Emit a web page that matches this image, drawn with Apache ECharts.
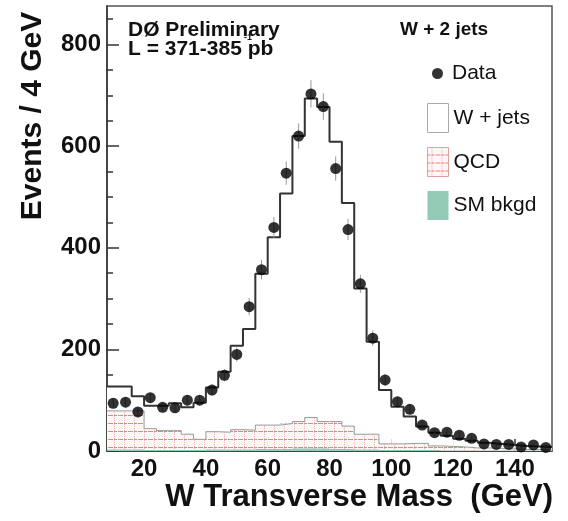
<!DOCTYPE html>
<html>
<head>
<meta charset="utf-8">
<script src="https://cdn.jsdelivr.net/npm/echarts@6/dist/echarts.min.js"></script>
<style>
	html, body { margin: 0; padding: 0; background: #fff; }
	#chart { width: 568px; height: 521px; }
</style>
</head>
<body>
<div id="chart"></div>
<script>
// bins of 4 GeV, centres
var binCenters = [10, 14, 18, 22, 26, 30, 34, 38, 42, 46, 50, 54, 58, 62, 66, 70, 74, 78,
	82, 86, 90, 94, 98, 102, 106, 110, 114, 118, 122, 126, 130, 134, 138, 142, 146, 150];
var binWidth = 4;

var dataCounts = [94, 96, 77, 105, 86, 85, 100, 100, 120, 149, 190, 284, 357, 440, 547, 620, 703, 678,
	556, 436, 329, 222, 140, 97, 82, 51, 36, 37, 31, 25, 14, 13, 13, 8, 12, 7];
var dataErrors = [10, 10, 9, 10, 9, 9, 10, 10, 11, 12, 14, 17, 19, 21, 23, 25, 27, 26,
	24, 21, 18, 15, 12, 10, 9, 7, 6, 6, 6, 5, 4, 4, 4, 3, 3, 3];
// total prediction (W + jets stacked on backgrounds)
var wjetsTotal = [127, 127, 108, 89, 89, 94, 86, 95, 125, 156, 207, 240, 349, 421, 507, 620, 694, 677,
	609, 488, 320, 215, 120, 87, 68, 48, 36, 30, 24, 20, 16, 14, 12, 10, 9, 8];
var qcd = [79, 79, 79, 44, 40, 40, 33, 23, 38, 37, 42, 41, 51, 51, 54, 58, 66, 58,
	58, 49, 33, 33, 14, 14, 15, 15, 10, 9, 8, 6, 6, 5, 4, 3, 3, 2];
var smBkgd = [3, 3, 3, 2, 2, 2, 2, 2, 3, 3, 3, 3, 4, 4, 4, 5, 5, 5,
	4, 4, 3, 3, 2, 2, 2, 2, 2, 1, 1, 1, 1, 1, 1, 1, 1, 1];

var xMajorTicks = [20, 40, 60, 80, 100, 120, 140];
var xMinorTicks = [10, 15, 25, 30, 35, 45, 50, 55, 65, 70, 75, 85, 90, 95, 105, 110, 115, 125, 130, 135, 145, 150];
var yMajorTicks = [0, 200, 400, 600, 800];
var yMinorTicks = [50, 100, 150, 250, 300, 350, 450, 500, 550, 650, 700, 750, 850];

var FONT = '"Liberation Sans", Arial, Helvetica, sans-serif';

// pink dotted hatch used for QCD
function makeHatch() {
	var c = document.createElement('canvas');
	c.width = 10;
	c.height = 8;
	var ctx = c.getContext('2d');
	ctx.fillStyle = '#fdf6f6';
	ctx.fillRect(0, 0, 10, 8);
	ctx.fillStyle = 'rgba(228,110,110,0.85)';
	for (var x = 0; x < 10; x++) {
		if (x % 4 !== 3) ctx.fillRect(x, 7, 1, 1);
	}
	ctx.fillStyle = 'rgba(228,140,140,0.65)';
	for (var y = 0; y < 7; y += 2) ctx.fillRect(4, y, 1, 1);
	return { image: c, repeat: 'repeat' };
}
var hatch = makeHatch();

function pairs(values) {
	return binCenters.map(function(c, i) {
		return [c, values[i]];
	});
}

function stepEdges(values) {
	var arr = binCenters.map(function(c, i) {
		return [c - binWidth / 2, values[i]];
	});
	arr.push([binCenters[binCenters.length - 1] + binWidth / 2, values[values.length - 1]]);
	return arr;
}

function histRender(fill) {
	return function(params, api) {
		var x = api.value(0),
			v = api.value(1);
		var p0 = api.coord([x - binWidth / 2, v]);
		var p1 = api.coord([x + binWidth / 2, 0]);
		return {
			type: 'rect',
			shape: { x: p0[0], y: p0[1], width: p1[0] - p0[0], height: p1[1] - p0[1] },
			style: { fill: fill }
		};
	};
}

var errData = binCenters.map(function(c, i) {
	return [c, dataCounts[i] - dataErrors[i], dataCounts[i] + dataErrors[i]];
});

var chart = echarts.init(document.getElementById('chart'));

var tickLine = { color: '#333', width: 1.5 };
var labelStyle = { fontFamily: FONT, fontSize: 24, fontWeight: 'bold', color: '#111' };

var option = {
	animation: false,
	grid: {
		left: 107, right: 16, top: 6, bottom: 70,
		show: true, borderColor: '#555', borderWidth: 1.5, backgroundColor: '#fff'
	},
	xAxis: [{
		type: 'value', min: 8, max: 152, position: 'bottom',
		axisLine: { show: true, onZero: false, lineStyle: tickLine },
		axisTick: { inside: true, length: 12, customValues: xMajorTicks, lineStyle: tickLine },
		axisLabel: Object.assign({ customValues: xMajorTicks, margin: 6 }, labelStyle),
		splitLine: { show: false }
	}, {
		type: 'value', min: 8, max: 152, position: 'bottom',
		axisLine: { show: false },
		axisTick: { inside: true, length: 6, customValues: xMinorTicks, lineStyle: tickLine },
		axisLabel: { show: false },
		splitLine: { show: false }
	}],
	yAxis: [{
		type: 'value', min: 0, max: 876, position: 'left',
		axisLine: { show: true, onZero: false, lineStyle: tickLine },
		axisTick: { inside: true, length: 12, customValues: yMajorTicks, lineStyle: tickLine },
		axisLabel: Object.assign({ customValues: yMajorTicks, margin: 6 }, labelStyle),
		splitLine: { show: false }
	}, {
		type: 'value', min: 0, max: 876, position: 'left',
		axisLine: { show: false },
		axisTick: { inside: true, length: 6, customValues: yMinorTicks, lineStyle: tickLine },
		axisLabel: { show: false },
		splitLine: { show: false }
	}],
	legend: [{
		data: ['Data'],
		left: 432, top: 63, padding: 0,
		icon: 'circle', itemWidth: 11, itemHeight: 11,
		selectedMode: false,
		textStyle: { fontFamily: FONT, fontSize: 21, color: '#111', padding: [0, 0, 0, 4] }
	}, {
		data: [{
			name: 'W + jets',
			itemStyle: { color: '#fff', borderColor: '#aaa', borderWidth: 1 }
		}, {
			name: 'QCD',
			itemStyle: { color: hatch, borderColor: '#e0a0a0', borderWidth: 1 }
		}, {
			name: 'SM bkgd',
			itemStyle: { color: '#93cbb6' }
		}],
		orient: 'vertical',
		left: 427, top: 103, padding: 0,
		icon: 'rect', itemWidth: 21, itemHeight: 29, itemGap: 14,
		selectedMode: false,
		textStyle: { fontFamily: FONT, fontSize: 21, color: '#111' }
	}],
	graphic: [{
		type: 'text', left: 128, top: 20,
		style: { text: 'DØ Preliminary', font: 'bold 21px ' + FONT, fill: '#111' }
	}, {
		type: 'text', left: 128, top: 39,
		style: { text: 'L = 371-385 pb', font: 'bold 21px ' + FONT, fill: '#111' }
	}, {
		type: 'text', left: 244, top: 33,
		style: { text: '-1', font: 'bold 9px ' + FONT, fill: '#111' }
	}, {
		type: 'text', left: 400, top: 20,
		style: { text: 'W + 2 jets', font: 'bold 19px ' + FONT, fill: '#111' }
	}, {
		type: 'text', x: 553, y: 497,
		style: { text: 'W Transverse Mass  (GeV)', font: 'bold 31px ' + FONT, fill: '#111', align: 'right', verticalAlign: 'middle' }
	}, {
		type: 'text', x: 33, y: 116, rotation: Math.PI / 2,
		style: { text: 'Events / 4 GeV', font: 'bold 30px ' + FONT, fill: '#111', align: 'center', verticalAlign: 'middle' }
	}],
	series: [{
		name: 'W + jets',
		type: 'custom',
		z: 1,
		clip: true,
		itemStyle: { color: '#fff' },
		renderItem: histRender('#fff'),
		data: pairs(wjetsTotal)
	}, {
		name: 'QCD',
		type: 'custom',
		z: 2,
		clip: true,
		itemStyle: { color: hatch },
		renderItem: histRender(hatch),
		data: pairs(qcd)
	}, {
		name: 'qcd outline',
		type: 'line',
		step: 'end',
		z: 3,
		symbol: 'none',
		lineStyle: { color: '#999', width: 1 },
		data: stepEdges(qcd)
	}, {
		name: 'SM bkgd',
		type: 'custom',
		z: 4,
		clip: true,
		itemStyle: { color: '#93cbb6' },
		renderItem: histRender('#93cbb6'),
		data: pairs(smBkgd)
	}, {
		name: 'total',
		type: 'line',
		step: 'end',
		z: 5,
		symbol: 'none',
		lineStyle: { color: '#333', width: 2 },
		data: stepEdges(wjetsTotal)
	}, {
		name: 'errors',
		type: 'custom',
		z: 6,
		renderItem: function(params, api) {
			var lo = api.coord([api.value(0), api.value(1)]);
			var hi = api.coord([api.value(0), api.value(2)]);
			return {
				type: 'line',
				shape: { x1: lo[0], y1: lo[1], x2: hi[0], y2: hi[1] },
				style: { stroke: '#999', lineWidth: 1 }
			};
		},
		data: errData
	}, {
		name: 'Data',
		type: 'scatter',
		z: 7,
		symbolSize: 11,
		itemStyle: { color: '#000' },
		data: pairs(dataCounts)
	}]
};

chart.setOption(option);
</script>
</body>
</html>
